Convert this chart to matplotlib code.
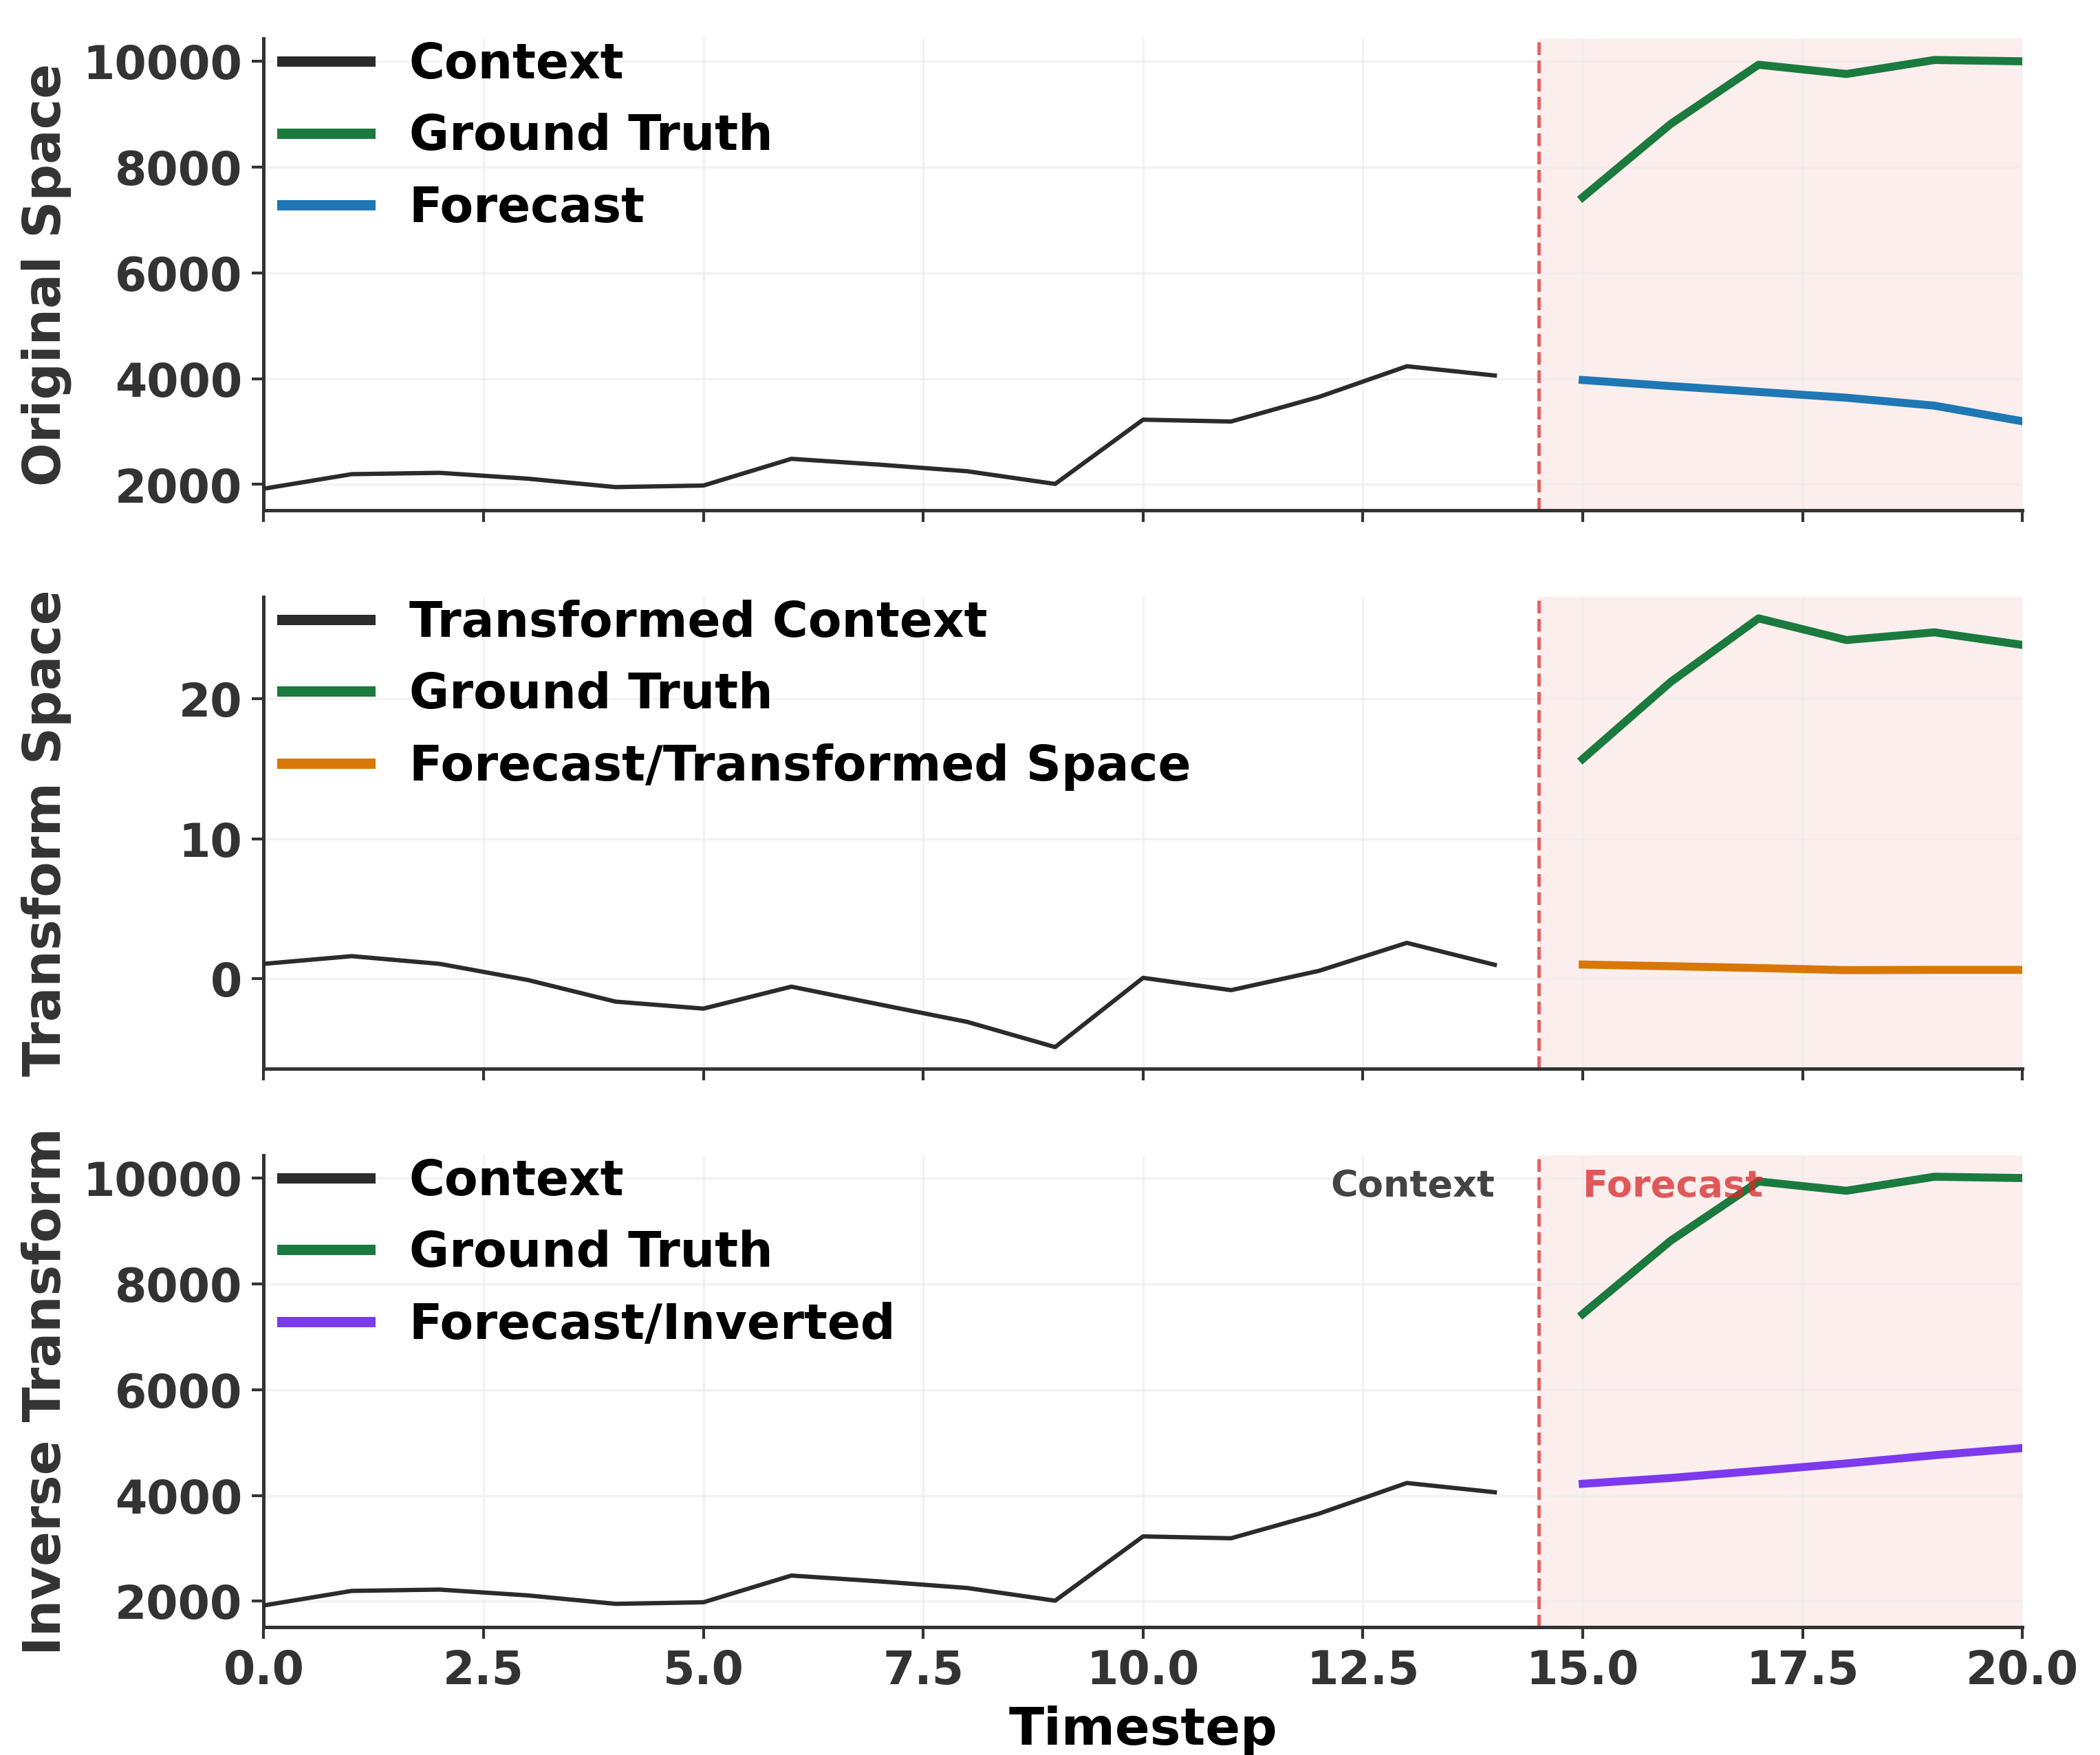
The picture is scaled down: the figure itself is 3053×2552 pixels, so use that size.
import numpy as np
import matplotlib
matplotlib.use('Agg')
import matplotlib.pyplot as plt
import matplotlib.transforms as mtransforms

# Data
context_steps = list(range(0, 15))
forecast_steps = list(range(15, 21))

context = [1920, 2195, 2220, 2110, 1950, 1980, 2485, 2375, 2250, 2010,
           3225, 3190, 3655, 4235, 4060]
ground_truth = [7430, 8815, 9935, 9760, 10025, 10000]
forecast = [3975, 3860, 3750, 3640, 3490, 3195]

transformed_context = [1.05, 1.6, 1.05, -0.1, -1.65, -2.15, -0.58, -1.85, -3.1, -4.9,
                       0.05, -0.83, 0.55, 2.55, 0.98]
transformed_truth = [15.7, 21.2, 25.75, 24.2, 24.75, 23.85]
forecast_transformed = [1.0, 0.88, 0.75, 0.6, 0.62, 0.62]

forecast_inverted = [4220, 4330, 4465, 4605, 4760, 4895]

split = 14.5

C_CONTEXT = '#2b2b2b'
C_TRUTH = '#1b7a3e'
C_FORECAST = '#1f77b4'
C_TRANS = '#d97706'
C_INV = '#7c3aed'
C_SPLIT = '#d62728'
TXT = '#333333'

plt.rcParams['font.family'] = 'DejaVu Sans'
plt.rcParams['font.weight'] = 'bold'

fig, axes = plt.subplots(3, 1, figsize=(10.177, 8.507), dpi=300, sharex=True)
fig.subplots_adjust(left=0.1256, right=0.963, top=0.978, bottom=0.073, hspace=0.184)

panels = [
    ("Original Space", context, ground_truth, forecast, C_FORECAST,
     ["Context", "Ground Truth", "Forecast"]),
    ("Transform Space", transformed_context, transformed_truth, forecast_transformed, C_TRANS,
     ["Transformed Context", "Ground Truth", "Forecast/Transformed Space"]),
    ("Inverse Transform", context, ground_truth, forecast_inverted, C_INV,
     ["Context", "Ground Truth", "Forecast/Inverted"]),
]

for ax, (ylabel, ctx, gt, fc, fc_color, labels) in zip(axes, panels):
    ax.axvspan(split, 20, color='#fdeeee', lw=0, zorder=0)
    ax.axvline(split, color=C_SPLIT, alpha=0.7, linestyle='--', linewidth=1.2, zorder=1)

    ax.plot(context_steps, ctx, color=C_CONTEXT, linewidth=1.5, label=labels[0], zorder=3)
    ax.plot(forecast_steps, gt, color=C_TRUTH, linewidth=2.8, label=labels[1], zorder=3)
    ax.plot(forecast_steps, fc, color=fc_color, linewidth=2.8, label=labels[2], zorder=3)

    ax.set_xlim(0, 20)
    ax.set_ylabel(ylabel, fontsize=18, fontweight='bold', color=TXT)
    ax.grid(True, color='#ebebeb', alpha=0.6, linewidth=0.8)
    ax.set_axisbelow(True)

    for side in ('top', 'right'):
        ax.spines[side].set_visible(False)
    for side in ('left', 'bottom'):
        ax.spines[side].set_color(TXT)
        ax.spines[side].set_linewidth(1.2)
    ax.tick_params(axis='both', labelsize=16, colors=TXT, length=4, width=1.0)
    for lbl in ax.get_xticklabels() + ax.get_yticklabels():
        lbl.set_fontweight('bold')

    leg = ax.legend(loc='upper left', frameon=False, prop={'weight': 'bold', 'size': 17},
                    borderaxespad=0.0, borderpad=0.2, labelspacing=0.5, handlelength=1.8,
                    bbox_to_anchor=(0.005, 1.015))
    for line in leg.get_lines():
        line.set_linewidth(3.6)

ax = axes[2]
trans = mtransforms.blended_transform_factory(ax.transData, ax.transAxes)
ax.text(split - 0.5, 0.935, "Context", transform=trans, ha='right', va='center',
        fontsize=13, fontweight='bold', color='#444444')
ax.text(split + 0.5, 0.935, "Forecast", transform=trans, ha='left', va='center',
        fontsize=13, fontweight='bold', color=C_SPLIT, alpha=0.75)
ax.set_xlabel("Timestep", fontsize=18, fontweight='bold', color='black')

fig.align_ylabels(axes)
fig.savefig('out.png', dpi=300, facecolor='white')
